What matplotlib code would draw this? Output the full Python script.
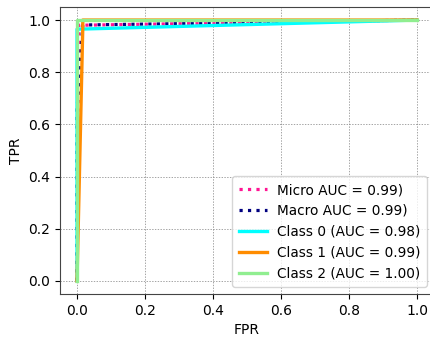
import matplotlib
matplotlib.use('Agg')
import matplotlib.pyplot as plt

# ROC curves per class plus micro / macro averages
micro_fpr = [0.0, 0.0, 0.005, 1.0]
micro_tpr = [0.0, 0.33, 0.98, 1.0]
macro_fpr = [0.0, 0.0, 0.017, 1.0]
macro_tpr = [0.0, 0.655, 0.981, 1.0]

class_fpr = [
    [0.0, 0.0, 1.0],
    [0.0, 0.017, 0.017, 1.0],
    [0.0, 0.0, 1.0],
]
class_tpr = [
    [0.0, 0.965, 1.0],
    [0.0, 0.97, 1.0, 1.0],
    [0.0, 1.0, 1.0],
]
class_auc = [0.98, 0.99, 1.00]
micro_auc = 0.99
macro_auc = 0.99
colors = ['aqua', 'darkorange', 'lightgreen']

fig = plt.figure(figsize=(4.31, 3.37), dpi=100)
# right edge runs slightly past the canvas
ax = fig.add_axes([60 / 431, 43 / 337, 374 / 431, 287 / 337])

ax.plot(micro_fpr, micro_tpr, ':', color='deeppink', lw=2.3,
        label='Micro AUC = {:.2f})'.format(micro_auc))
ax.plot(macro_fpr, macro_tpr, ':', color='navy', lw=2.3,
        label='Macro AUC = {:.2f})'.format(macro_auc))
for i in range(3):
    ax.plot(class_fpr[i], class_tpr[i], color=colors[i], lw=2.4,
            label='Class {} (AUC = {:.2f})'.format(i, class_auc[i]))

ax.set_xlim(-0.05, 1.05)
ax.set_ylim(-0.05, 1.05)
ax.set_xticks([0.0, 0.2, 0.4, 0.6, 0.8, 1.0])
ax.set_yticks([0.0, 0.2, 0.4, 0.6, 0.8, 1.0])
ax.set_xlabel('FPR')
ax.set_ylabel('TPR')
for s in ax.spines.values():
    s.set_color('#444444')
ax.grid(True, color='gray', linestyle=(0, (2, 2)), linewidth=0.5)
ax.legend(loc='lower right', fontsize=9.8, handlelength=2.1,
          handletextpad=0.7, labelspacing=0.5, borderpad=0.5,
          borderaxespad=0.5)

fig.savefig('out.png', dpi=100)
